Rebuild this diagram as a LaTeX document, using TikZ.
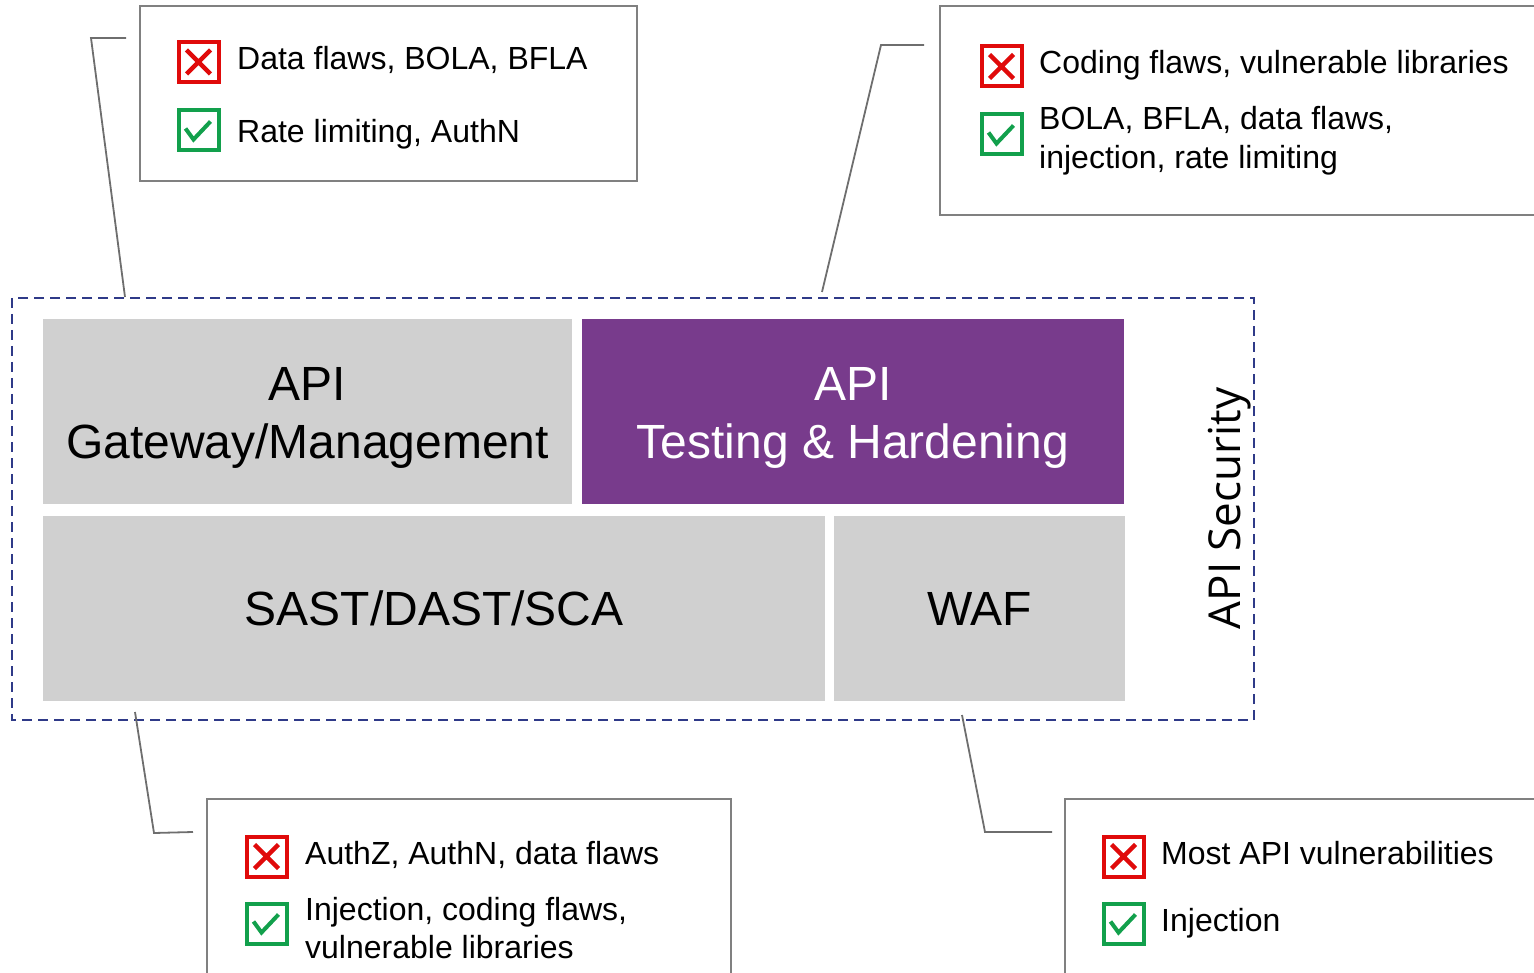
\documentclass[tikz,border=0pt]{standalone}
\usepackage{fontspec}
\setmainfont{Liberation Sans}
\newfontfamily\osans{Open Sans}
\definecolor{tilegray}{HTML}{D0D0D0}
\definecolor{tilepurple}{HTML}{783B8C}
\definecolor{frameblue}{HTML}{2F3A88}
\definecolor{calloutgray}{HTML}{808080}
\definecolor{leadergray}{HTML}{6E6E6E}
\definecolor{xred}{HTML}{E00A0A}
\definecolor{okgreen}{HTML}{12A04C}

\begin{document}
\begin{tikzpicture}[x=1pt,y=-1pt,
  tile/.style={draw=none, inner sep=0, fill=tilegray},
  tiletext/.style={inner sep=0, align=center, font=\fontsize{48}{58}\selectfont},
  frame/.style={draw=frameblue, line width=2pt, dash pattern=on 10pt off 6pt},
  callout/.style={draw=calloutgray, line width=2pt, fill=white},
  leader/.style={draw=leadergray, line width=1.8pt},
  note/.style={anchor=base west, inner sep=0, font=\fontsize{32}{39}\selectfont},
  badge/.style={line width=4pt, minimum size=40pt, inner sep=0, fill=white},
  nobadge/.style={badge, draw=xred, path picture={
      \draw[xred, line width=4.5pt]
        ([shift={(-12,-12)}]path picture bounding box.center) -- ([shift={(12,12)}]path picture bounding box.center)
        ([shift={(-12,12)}]path picture bounding box.center) -- ([shift={(12,-12)}]path picture bounding box.center);}},
  okbadge/.style={badge, draw=okgreen, path picture={
      \draw[okgreen, line width=4pt, line join=miter]
        ([shift={(-13,-2)}]path picture bounding box.center) -- ([shift={(-5,9)}]path picture bounding box.center)
        -- ([shift={(12,-9)}]path picture bounding box.center);}}
]
\useasboundingbox (0,0) rectangle (1534,973);

% ---- central stack ----
\draw[frame] (12,298) rectangle (1254,720);
\coordinate (frameTL) at (125,297);
\coordinate (frameTR) at (822,292);
\coordinate (frameBL) at (135,712);
\coordinate (frameBR) at (962,715);

\node[tile, minimum width=529pt, minimum height=185pt] (gw) at (307.5,411.5) {};
\node[tile, fill=tilepurple, minimum width=542pt, minimum height=185pt] (test) at (853,411.5) {};
\node[tile, minimum width=782pt, minimum height=185pt] (sast) at (434,608.5) {};
\node[tile, minimum width=291pt, minimum height=185pt] (waf) at (979.5,608.5) {};

\node[tiletext, yshift=-6pt] (gwtext) at (gw.center) {API\\Gateway/Management};
\node[tiletext, text=white, yshift=-6pt] (testtext) at (test.center) {API\\Testing \& Hardening};
\node[tiletext] (sasttext) at (sast.center) {SAST/DAST/SCA};
\node[tiletext] (waftext) at (waf.center) {WAF};

\node[inner sep=0, rotate=90, anchor=base, font=\osans\fontsize{44}{52}\selectfont] (sec) at (1240,508.5) {API Security};

% ---- callout: gateway ----
\draw[callout] (140,6) rectangle (637,181);
\coordinate (gwA) at (126,38);
\coordinate (gwB) at (91,38);
\draw[leader] (gwA) -- (gwB) -- (frameTL);
\node[nobadge] (gwno) at (198.5,62) {};
\node[okbadge] (gwok) at (198.5,130.5) {};
\node[note] (gwnot) at (237,70) {Data flaws, BOLA, BFLA};
\node[note] (gwyes) at (237,143) {Rate limiting, AuthN};

% ---- callout: testing ----
\draw[callout] (940,6) rectangle (1550,215);
\coordinate (tsA) at (924,45);
\coordinate (tsB) at (881,45);
\draw[leader] (tsA) -- (tsB) -- (frameTR);
\node[nobadge] (tsno) at (1001.5,66.5) {};
\node[okbadge] (tsok) at (1001.5,134.5) {};
\node[note] (tsnot) at (1039,74) {Coding flaws, vulnerable libraries};
\node[note] (tsyes) at (1039,130) {BOLA, BFLA, data flaws,};
\node[note] (tsyes2) at (1039,169) {injection, rate limiting};

% ---- callout: SAST/DAST/SCA ----
\draw[callout] (207,799) rectangle (731,990);
\coordinate (saA) at (154,833);
\coordinate (saB) at (193,832);
\draw[leader] (frameBL) -- (saA) -- (saB);
\node[nobadge] (sano) at (266.5,856.5) {};
\node[okbadge] (saok) at (266.5,923.5) {};
\node[note] (sanot) at (305,864) {AuthZ, AuthN, data flaws};
\node[note] (sayes) at (305,920) {Injection, coding flaws,};
\node[note] (sayes2) at (305,958) {vulnerable libraries};

% ---- callout: WAF ----
\draw[callout] (1065,799) rectangle (1550,990);
\coordinate (wfA) at (985,832);
\coordinate (wfB) at (1052,832);
\draw[leader] (frameBR) -- (wfA) -- (wfB);
\node[nobadge] (wfno) at (1123.5,856.5) {};
\node[okbadge] (wfok) at (1123.5,923.5) {};
\node[note] (wfnot) at (1161,864) {Most API vulnerabilities};
\node[note] (wfyes) at (1161,931) {Injection};
\end{tikzpicture}
\end{document}
